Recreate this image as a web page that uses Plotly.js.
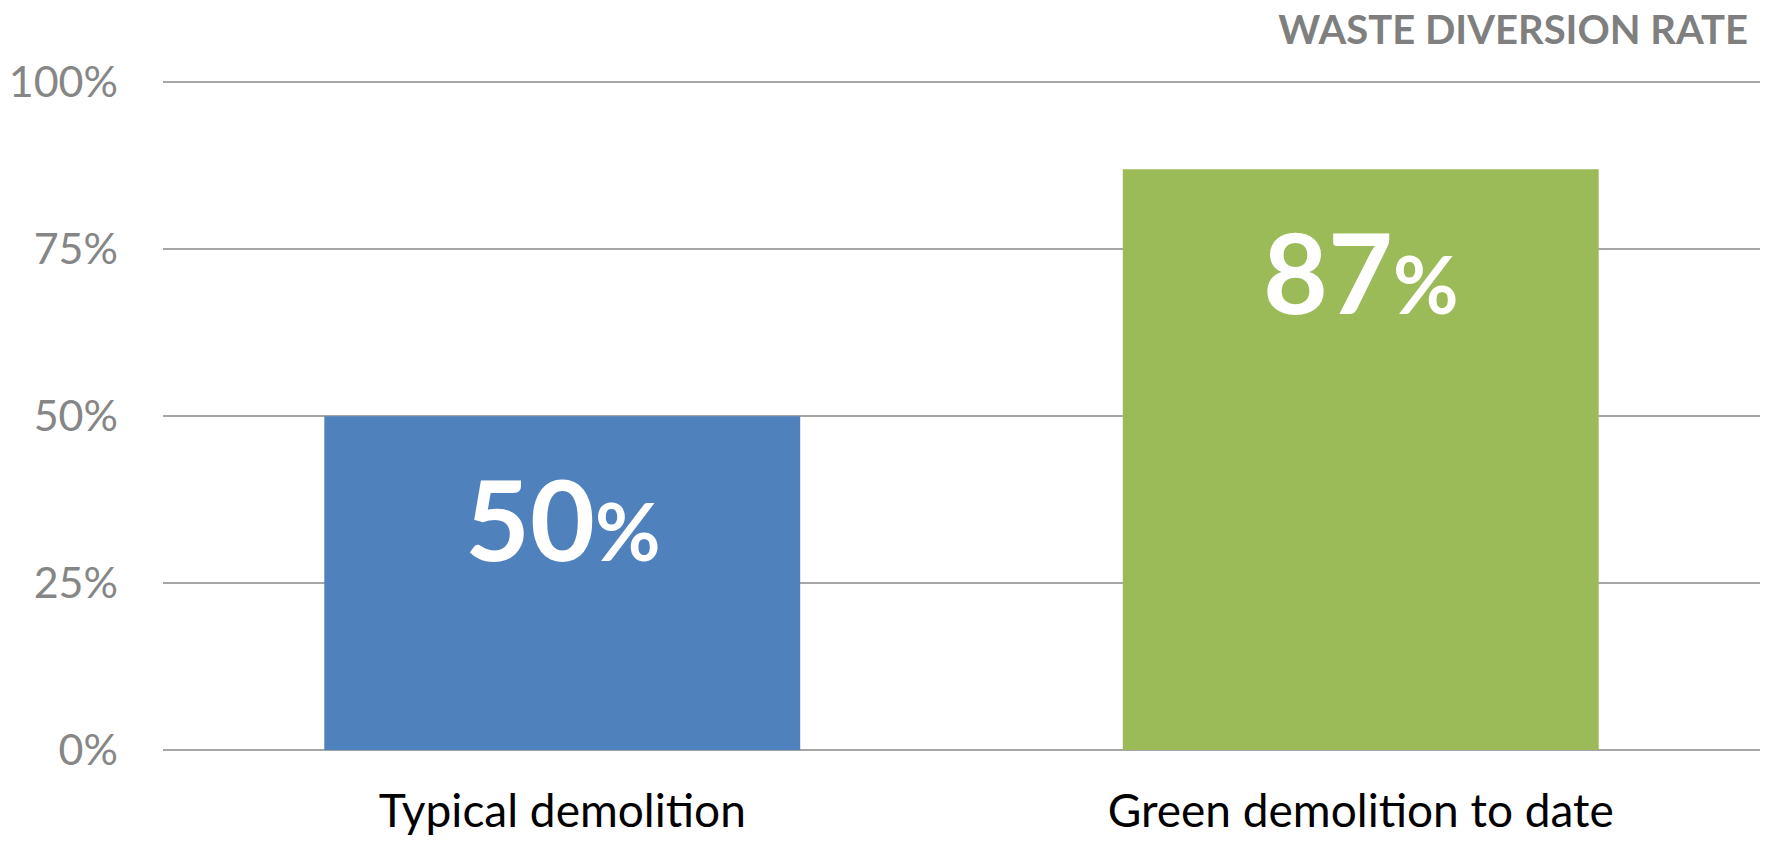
<!DOCTYPE html>
<html>
<head>
<meta charset="utf-8">
<script src="https://cdn.plot.ly/plotly-3.0.1.min.js"></script>
<style>html,body{margin:0;padding:0;background:#fff;}#chart{width:1771px;height:845px;}</style>
</head>
<body>
<div id="chart"></div>
<script>
const categories = ["Typical demolition", "Green demolition to date"];
const values = [50, 87];
const barColors = ["#4F81BD", "#9BBB59"];
const yTicks = [0, 25, 50, 75, 100];
const yTickLabels = ["0%", "25%", "50%", "75%", "100%"];
const chartTitle = "WASTE DIVERSION RATE";

const FONT = "Lato, 'Open Sans', sans-serif";

const trace = {
  type: "bar",
  x: categories,
  y: values,
  marker: {color: barColors, line: {width: 0}},
  hoverinfo: "none"
};

const annotations = categories.map((c, i) => ({
  x: c, y: values[i], xref: "x", yref: "y",
  yanchor: "top", yshift: -32, showarrow: false,
  text: "<b>" + values[i] + "<span style='font-size:80px'>%</span></b>",
  font: {family: FONT, size: 112, color: "#ffffff"}
}));

const layout = {
  width: 1771, height: 845,
  margin: {l: 163, r: 11, t: 79, b: 95, pad: 0},
  paper_bgcolor: "#ffffff", plot_bgcolor: "#ffffff",
  bargap: 0.404,
  showlegend: false,
  title: {
    text: "<b>" + chartTitle + "</b>",
    xref: "container", yref: "container",
    x: 1748/1771, xanchor: "right",
    y: 1 - 30/845, yanchor: "middle",
    font: {family: FONT, size: 40, color: "#7F7F7F"}
  },
  xaxis: {
    showgrid: false, showline: false, zeroline: false,
    ticks: "", tickfont: {family: FONT, size: 46, color: "#000000"},
    ticklabelstandoff: 30
  },
  yaxis: {
    range: [0, 100.5], fixedrange: true,
    tickvals: yTicks, ticktext: yTickLabels,
    showgrid: true, gridcolor: "#A6A6A6", gridwidth: 2,
    zeroline: true, zerolinecolor: "#A6A6A6", zerolinewidth: 2,
    showline: false, ticks: "",
    tickfont: {family: FONT, size: 43, color: "#868686"},
    ticklabelstandoff: 44
  },
  annotations: annotations
};

Plotly.newPlot("chart", [trace], layout, {displayModeBar: false, staticPlot: true});
</script>
</body>
</html>
